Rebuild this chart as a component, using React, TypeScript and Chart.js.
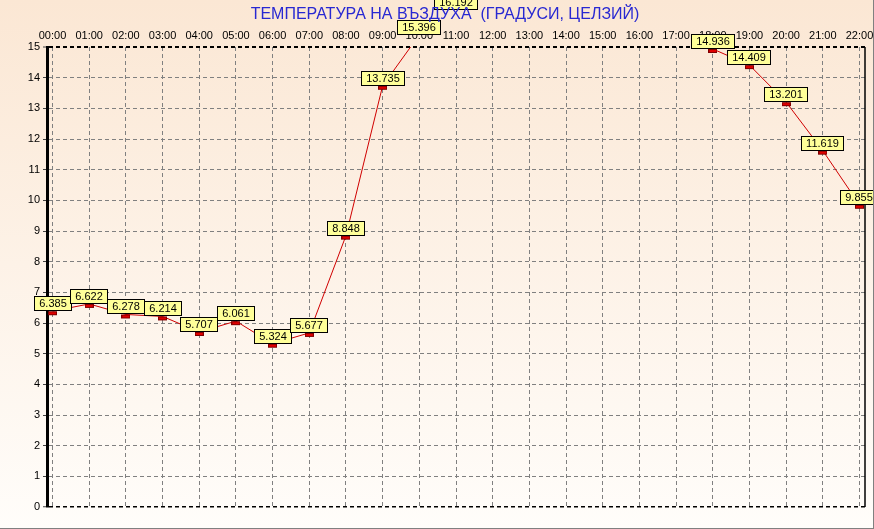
import React, { useEffect, useRef } from "react";
import { Chart, registerables } from "chart.js";

Chart.register(...registerables);

const TITLE = "ТЕМПЕРАТУРА НА ВЪЗДУХА  (ГРАДУСИ, ЦЕЛЗИЙ)";

const hours: string[] = [
  "00:00", "01:00", "02:00", "03:00", "04:00", "05:00", "06:00", "07:00",
  "08:00", "09:00", "10:00", "11:00", "12:00", "13:00", "14:00", "15:00",
  "16:00", "17:00", "18:00", "19:00", "20:00", "21:00", "22:00",
];

const temperatures: (number | null)[] = [
  6.385, 6.622, 6.278, 6.214, 5.707, 6.061, 5.324, 5.677,
  8.848, 13.735, 15.396, 16.192, null, null, null, null,
  null, null, 14.936, 14.409, 13.201, 11.619, 9.855,
];

const Y_MIN = 0;
const Y_MAX = 15;

const FONT = '"Liberation Sans", Arial, sans-serif';

function makeMarker(): HTMLCanvasElement {
  const c = document.createElement("canvas");
  c.width = 9;
  c.height = 10;
  const g = c.getContext("2d")!;
  g.fillStyle = "#E00000";
  g.fillRect(0, 5, 9, 4);
  g.strokeStyle = "#800000";
  g.lineWidth = 1;
  g.strokeRect(0.5, 5.5, 8, 3);
  return c;
}

const backgroundPlugin = {
  id: "bgGradient",
  beforeDraw(chart: any) {
    const { ctx, width, height } = chart;
    const grd = ctx.createLinearGradient(0, 0, 0, height);
    grd.addColorStop(0, "rgb(251,231,212)");
    grd.addColorStop(1, "rgb(255,253,250)");
    ctx.save();
    ctx.fillStyle = grd;
    ctx.fillRect(0, 0, width, height);
    ctx.restore();
  },
};

const decorPlugin = {
  id: "decor",
  afterDatasetsDraw(chart: any) {
    const { ctx, chartArea } = chart;
    // right frame of the plot
    ctx.save();
    ctx.strokeStyle = "#000";
    ctx.lineWidth = 1.5;
    ctx.beginPath();
    ctx.moveTo(chartArea.right, chartArea.top);
    ctx.lineTo(chartArea.right, chartArea.bottom);
    ctx.stroke();
    ctx.restore();

    // value labels
    const meta = chart.getDatasetMeta(0);
    ctx.save();
    ctx.font = "11px " + FONT;
    ctx.textAlign = "center";
    ctx.textBaseline = "middle";
    meta.data.forEach((pt: any, i: number) => {
      const v = temperatures[i];
      if (v === null || v === undefined) return;
      const txt = v.toFixed(3);
      const w = Math.round(ctx.measureText(txt).width + 10);
      const h = 15;
      const bx = Math.round(pt.x - w / 2);
      const by = Math.round(pt.y - h);
      ctx.fillStyle = "#FFFF99";
      ctx.fillRect(bx, by, w, h);
      ctx.strokeStyle = "#000";
      ctx.lineWidth = 1;
      ctx.strokeRect(bx + 0.5, by + 0.5, w - 1, h - 1);
      ctx.fillStyle = "#000";
      ctx.fillText(txt, bx + w / 2, by + h / 2 + 0.5);
    });
    ctx.restore();
  },
  afterDraw(chart: any) {
    const { ctx } = chart;
    ctx.save();
    ctx.font = "16px " + FONT;
    ctx.fillStyle = "rgb(40,40,210)";
    ctx.textAlign = "center";
    ctx.textBaseline = "middle";
    ctx.fillText(TITLE, 445, 15);
    ctx.restore();
  },
};

export default function App() {
  const canvasRef = useRef<HTMLCanvasElement | null>(null);

  useEffect(() => {
    const canvas = canvasRef.current;
    if (!canvas) return;
    const marker = makeMarker();
    const data = hours.map((_, i) => ({ x: i, y: temperatures[i] }));

    const chart = new Chart(canvas, {
      type: "line",
      data: {
        datasets: [
          {
            data: data as any,
            borderColor: "#D00000",
            borderWidth: 1,
            tension: 0,
            spanGaps: false,
            pointStyle: marker as any,
            pointRadius: 3,
            pointHoverRadius: 3,
          },
        ],
      },
      options: {
        animation: false,
        responsive: false,
        devicePixelRatio: 1,
        events: [],
        layout: { padding: { left: 0, top: 0, right: 8, bottom: 21 } },
        plugins: {
          legend: { display: false },
          tooltip: { enabled: false },
          title: { display: false },
        },
        scales: {
          x: {
            type: "linear",
            position: "top",
            min: -0.15,
            max: 22.15,
            afterFit: (s: any) => {
              s.height = 47;
              s.paddingLeft = 0;
              s.paddingRight = 0;
            },
            ticks: {
              stepSize: 1,
              includeBounds: false,
              autoSkip: false,
              maxRotation: 0,
              padding: 4,
              color: "#000",
              font: { family: FONT, size: 11 },
              callback: (v: any) => hours[v as number] ?? "",
            },
            grid: {
              color: "#808080",
              lineWidth: 1,
              drawTicks: false,
            },
            border: { display: false, dash: [4, 3] },
          },
          y: {
            type: "linear",
            position: "left",
            min: Y_MIN,
            max: Y_MAX,
            afterFit: (s: any) => {
              s.width = 47;
              s.paddingTop = 0;
              s.paddingBottom = 0;
            },
            ticks: {
              stepSize: 1,
              padding: 3,
              color: "#000",
              font: { family: FONT, size: 11 },
            },
            grid: {
              color: (c: any) =>
                c.tick && (c.tick.value === Y_MAX || c.tick.value === Y_MIN) ? "#000" : "#808080",
              lineWidth: (c: any) =>
                c.tick && c.tick.value === Y_MAX ? 2 : c.tick && c.tick.value === Y_MIN ? 1.5 : 1,
              drawTicks: true,
              tickLength: 4,
              tickColor: "#404040",
              tickWidth: 1,
              tickBorderDash: [],
            },
            border: { display: true, color: "#000", width: 3, dash: [4, 3] },
          },
        },
      },
      plugins: [backgroundPlugin, decorPlugin],
    });

    return () => {
      chart.destroy();
    };
  }, []);

  return (
    <div
      style={{
        position: "fixed",
        left: 0,
        top: 0,
        width: 874,
        height: 529,
        boxSizing: "border-box",
        borderRight: "1px solid #808080",
        borderBottom: "1px solid #808080",
        background: "#fff",
      }}
    >
      <canvas ref={canvasRef} width={873} height={528} style={{ display: "block" }} />
    </div>
  );
}
